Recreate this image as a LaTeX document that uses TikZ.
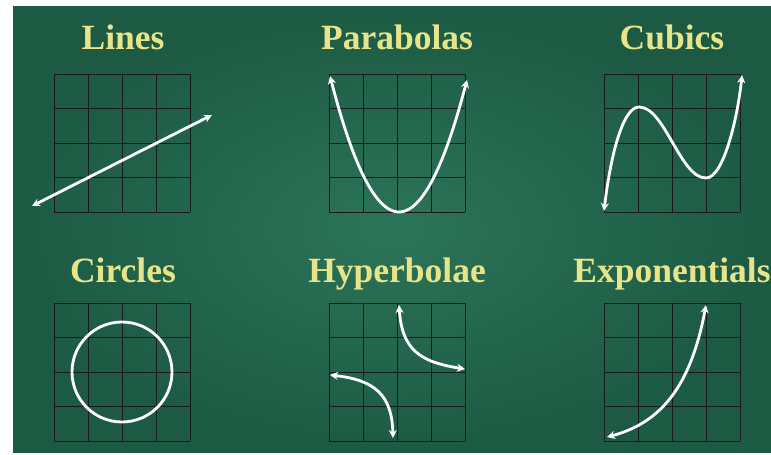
\documentclass[tikz,border=0pt]{standalone}
\usepackage{fontspec}
\setmainfont{Liberation Serif}
\usetikzlibrary{arrows.meta}
\definecolor{boardgreen}{RGB}{28,90,67}
\definecolor{boardlight}{RGB}{44,116,89}
\definecolor{chalkyellow}{RGB}{232,228,138}
\begin{document}
\begin{tikzpicture}[
    x=1pt, y=-1pt,
    title/.style={anchor=base, text=chalkyellow, font=\bfseries\fontsize{35.5}{40}\selectfont, inner sep=0pt},
    gridline/.style={draw=black!90, line width=0.8pt},
    curve/.style={draw=white, line width=2.8pt, line cap=round, >={Stealth[length=8pt,width=8pt]}}
]
\useasboundingbox (0,0) rectangle (771,455);
% Chalkboard
\shade[inner color=boardlight, outer color=boardgreen] (13,6) rectangle (771,452);

% Titles
\node[title] (lines) at (123,49) {Lines};
\node[title] (parabolas) at (397,49) {Parabolas};
\node[title] (cubics) at (672,49) {Cubics};
\node[title] (circles) at (123,282) {Circles};
\node[title] (hyperbolae) at (397,282) {Hyperbolae};
\node[title] (exponentials) at (672,282) {Exponentials};

% Grids
\foreach \gx/\gy in {54/74, 329/74, 604/74, 54/303, 329/303, 604/303} {
  \foreach \k in {0,...,4} {
    \draw[gridline] (\gx+34*\k,\gy) -- (\gx+34*\k,\gy+138);
    \draw[gridline] (\gx,\gy+34.5*\k) -- (\gx+136,\gy+34.5*\k);
  }
}

% Line
\draw[curve, <->] (32,206) -- (212,115);

% Parabola
\draw[curve, <->, domain=330:467, samples=60, smooth]
  plot ({\x},{212-0.02857*(\x-399)*(\x-399)});

% Cubic
\draw[curve, <->] (604,211) .. controls (610,160) and (622,107) .. (639,107)
  .. controls (665,107) and (680,178) .. (706,178)
  .. controls (724,178) and (738,115) .. (742,75);

% Circle
\draw[curve] (122,372) circle[radius=50];

% Hyperbola
\draw[curve, <->] (399,305) .. controls (402,350) and (420,362) .. (465,369);
\draw[curve, <->] (330,375) .. controls (375,380) and (392,395) .. (393,438);

% Exponential
\draw[curve, <->] (607,437) .. controls (665,422) and (692,380) .. (706,305);
\end{tikzpicture}
\end{document}
